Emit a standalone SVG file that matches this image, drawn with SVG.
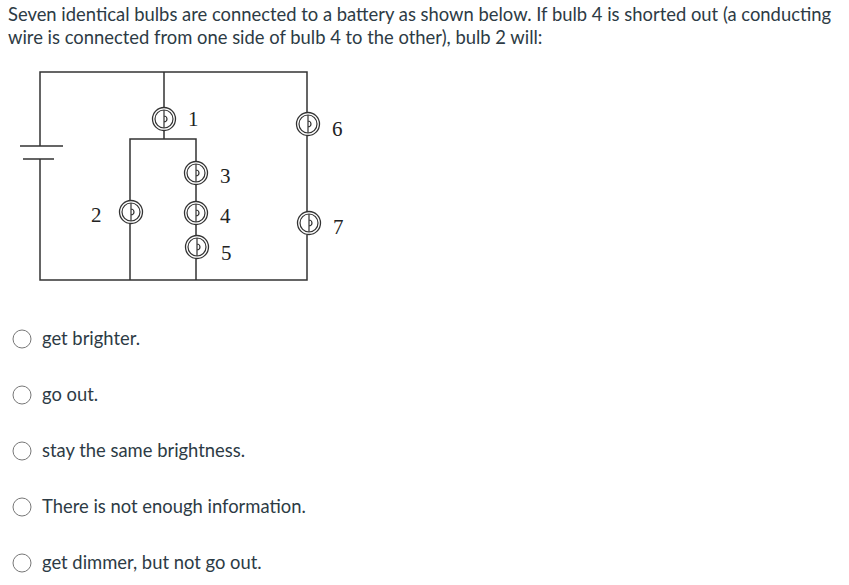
<svg xmlns="http://www.w3.org/2000/svg" width="849" height="585" viewBox="0 0 849 585">
<style>
.q{font-family:Lato,"Liberation Sans",sans-serif;font-size:18.4px;fill:#2d3b45}
.w{stroke:#333;stroke-width:1.5;fill:none}
.b{stroke:#333;stroke-width:1.3;fill:#fff}
.l{font-family:"Liberation Serif",serif;font-size:21px;fill:#222}
.r{fill:#fff;stroke:#777;stroke-width:1}
</style>
<defs>
<g id="bulb"><circle r="11.5" class="b"/><circle r="9" fill="none" stroke="#333" stroke-width="1.2"/><path d="M0,-9 V3 M0,-3 a3,3 0 1 1 0,6 V9" fill="none" stroke="#333" stroke-width="1.2"/></g>
</defs>
<rect width="849" height="585" fill="#fff"/>
<text class="q" x="8" y="21">Seven identical bulbs are connected to a battery as shown below.  If bulb 4 is shorted out (a conducting</text>
<text class="q" x="8" y="44">wire is connected from one side of bulb 4 to the other), bulb 2 will:</text>
<g id="connectors">
<path class="w" d="M40,146 V72 H307 V280 H40 V159"/>
<path class="w" d="M164,72 V139 M130,280 V139 H196 V280"/>
<path class="w" d="M20,146 H63 M23,159 H54"/>
</g>
<g id="bulb1"><use href="#bulb" x="164" y="119"/><text class="l" x="188" y="126">1</text></g>
<g id="bulb2"><use href="#bulb" x="131" y="212"/><text class="l" x="91" y="222">2</text></g>
<g id="bulb3"><use href="#bulb" x="196" y="173"/><text class="l" x="220" y="183">3</text></g>
<g id="bulb4"><use href="#bulb" x="196" y="213"/><text class="l" x="220" y="223">4</text></g>
<g id="bulb5"><use href="#bulb" x="197" y="247"/><text class="l" x="221" y="260">5</text></g>
<g id="bulb6"><use href="#bulb" x="308" y="124"/><text class="l" x="332" y="136">6</text></g>
<g id="bulb7"><use href="#bulb" x="309" y="223"/><text class="l" x="333" y="234">7</text></g>
<g id="options">
<circle class="r" cx="22" cy="339" r="9"/><text class="q" x="42" y="345">get brighter.</text>
<circle class="r" cx="22" cy="395" r="9"/><text class="q" x="42" y="401">go out.</text>
<circle class="r" cx="22" cy="451" r="9"/><text class="q" x="42" y="457">stay the same brightness.</text>
<circle class="r" cx="22" cy="507" r="9"/><text class="q" x="42" y="513">There is not enough information.</text>
<circle class="r" cx="22" cy="563" r="9"/><text class="q" x="42" y="569">get dimmer, but not go out.</text>
</g>
</svg>
